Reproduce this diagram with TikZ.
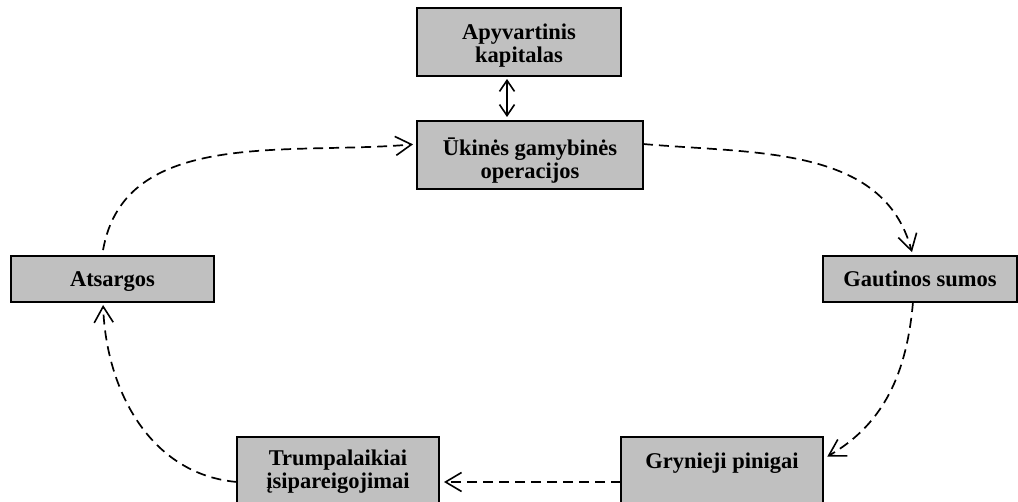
\documentclass[tikz,border=0pt]{standalone}
\usepackage{fontspec}
\setmainfont{Liberation Serif}
\usetikzlibrary{arrows.meta, positioning, calc}
\definecolor{boxgray}{RGB}{192,192,192}

\begin{document}
\begin{tikzpicture}[x=0.5pt,y=-0.5pt,
    every node/.style={font=\fontsize{11.25pt}{11.5pt}\selectfont\bfseries},
    blok/.style={draw,line width=1pt,fill=boxgray,inner sep=0pt,outer sep=0pt,align=center,text depth=0pt},
    srautas/.style={dash pattern=on 5pt off 3pt,line width=0.85pt,-{Straight Barb[length=8pt,width=9.5pt,line width=0.8pt]}}]
    \useasboundingbox (0,0) rectangle (1018,502);
    % blokai
    \node[blok,minimum width=102pt,minimum height=34pt,text height=21pt] (kapitalas) at (519,42) {Apyvartinis\\kapitalas};
    \node[blok,minimum width=113pt,minimum height=34pt,text height=24pt] (ukines) at (530,155) {Ūkinės gamybinės\\operacijos};
    \node[blok,minimum width=101.5pt,minimum height=23pt,text height=8pt] (atsargos) at (112.5,279) {Atsargos};
    \node[blok,minimum width=97pt,minimum height=23pt,text height=8pt] (gautinos) at (920,279) {Gautinos sumos};
    \node[blok,minimum width=101pt,minimum height=34pt,text height=17pt] (trump) at (338,471) {Trumpalaikiai\\įsipareigojimai};
    \node[blok,minimum width=101pt,minimum height=34pt,text height=8pt,text depth=11pt] (gryn) at (722,471) {Grynieji pinigai};
    % srautai
    \draw[line width=0.8pt,{Straight Barb[length=5.5pt,width=7.5pt]}-{Straight Barb[length=5.5pt,width=7.5pt]},shorten <=1.5pt,shorten >=2pt]
        ([xshift=-6pt]kapitalas.south) -- ([xshift=-6pt]kapitalas.south |- ukines.north);
    \draw[srautas,shorten >=2pt] ([yshift=5.5pt]ukines.east) to[out=-5,in=105] ([xshift=-3.5pt]gautinos.north);
    \draw[srautas,shorten >=2.5pt] ([xshift=-3.5pt]gautinos.south) to[out=-95,in=30] ([yshift=6pt]gryn.east);
    \draw[srautas,shorten >=2.5pt] ([yshift=-5.5pt]gryn.west) -- ([yshift=-5.5pt]trump.east);
    \draw[srautas,shorten >=1.5pt] ([yshift=-5.5pt]trump.west) to[out=175,in=-88] ([xshift=-4.75pt]atsargos.south);
    \draw[srautas,shorten <=3pt,shorten >=2pt] ([xshift=-5.25pt]atsargos.north) to[out=80,in=185] ([yshift=5.5pt]ukines.west);
\end{tikzpicture}
\end{document}
